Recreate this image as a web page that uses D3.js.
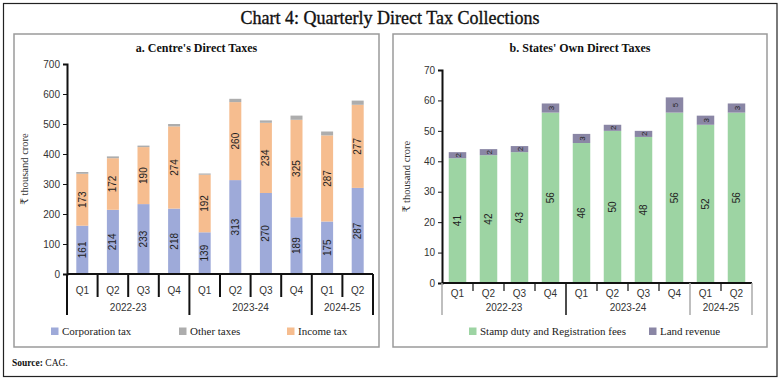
<!DOCTYPE html>
<html>
<head>
<meta charset="utf-8">
<script src="https://cdn.jsdelivr.net/npm/d3@7"></script>
<style>
  body { margin: 0; background: #fff; }
  svg { display: block; }
</style>
</head>
<body>
<svg id="chart" width="781" height="381"></svg>
<script>
// Quarters and fiscal years shared by both panels
const quarters = ["Q1", "Q2", "Q3", "Q4", "Q1", "Q2", "Q3", "Q4", "Q1", "Q2"];
const years = ["2022-23", "2022-23", "2022-23", "2022-23", "2023-24", "2023-24", "2023-24", "2023-24", "2024-25", "2024-25"];

// Panel a: Centre's direct taxes (₹ thousand crore)
const corporationTax = [161, 214, 233, 218, 139, 313, 270, 189, 175, 287];
const incomeTax = [173, 172, 190, 274, 192, 260, 234, 325, 287, 277];
const otherTaxes = [6, 6, 5, 8, 4, 11, 8, 14, 13, 14];
const centreTicks = [0, 100, 200, 300, 400, 500, 600, 700];

// Panel b: States' own direct taxes (₹ thousand crore)
const stampDuty = [41, 42, 43, 56, 46, 50, 48, 56, 52, 56];
const landRevenue = [2, 2, 2, 3, 3, 2, 2, 5, 3, 3];
const stateTicks = [0, 10, 20, 30, 40, 50, 60, 70];

const serif = "'Liberation Serif', 'DejaVu Serif', serif";
const sans = "'Liberation Sans', 'DejaVu Sans', sans-serif";

const svg = d3.select("#chart");

// Outer frame and title
svg.append("rect")
  .attr("x", 3.5).attr("y", 3.5)
  .attr("width", 773.5).attr("height", 373)
  .attr("fill", "none").attr("stroke", "#222").attr("stroke-width", 1.2);

svg.append("text")
  .attr("x", 390).attr("y", 24)
  .attr("text-anchor", "middle")
  .attr("font-family", serif)
  .attr("font-size", 18)
  .attr("fill", "#111")
  .attr("stroke", "#111")
  .attr("stroke-width", 0.35)
  .text("Chart 4: Quarterly Direct Tax Collections");

svg.append("text")
  .attr("x", 12).attr("y", 366)
  .attr("font-family", serif)
  .attr("font-size", 9.5)
  .attr("fill", "#111")
  .html("<tspan font-weight='bold'>Source:</tspan> CAG.");

const rows = quarters.map((q, i) => ({ key: i, quarter: q, year: years[i] }));

/**
 * Draw one stacked-bar panel
 */
function drawPanel(cfg) {
  const g = svg.append("g");

  // panel border
  g.append("rect")
    .attr("x", cfg.box[0]).attr("y", cfg.box[1])
    .attr("width", cfg.box[2]).attr("height", cfg.box[3])
    .attr("fill", "none").attr("stroke", "#9a9a9a").attr("stroke-width", 1.5);

  g.append("text")
    .attr("x", cfg.box[0] + cfg.box[2] / 2).attr("y", 52)
    .attr("text-anchor", "middle")
    .attr("font-family", serif)
    .attr("font-size", 12)
    .attr("font-weight", "bold")
    .attr("fill", "#111")
    .text(cfg.title);

  const data = rows.map(r => {
    const o = { key: r.key };
    cfg.series.forEach(s => { o[s.name] = s.values[r.key]; });
    return o;
  });

  const stack = d3.stack().keys(cfg.series.map(s => s.name));
  const layers = stack(data);

  const xPos = d3.scaleBand()
    .domain(rows.map(r => r.key))
    .range([cfg.x0, cfg.x1])
    .padding(0);
  const step = xPos.bandwidth();

  const y = d3.scaleLinear()
    .domain([0, cfg.max])
    .range([cfg.y0, cfg.yTop]);

  // y axis
  const yAxis = g.append("g")
    .attr("transform", `translate(${cfg.x0},0)`)
    .call(d3.axisLeft(y).tickValues(cfg.ticks).tickSize(4).tickPadding(3));
  yAxis.select(".domain").attr("stroke", "#111").attr("stroke-width", 2);
  yAxis.selectAll(".tick line").attr("stroke", "#111");
  yAxis.selectAll(".tick text")
    .attr("font-family", sans).attr("font-size", 10).attr("fill", "#333");

  g.append("text")
    .attr("transform", `translate(${cfg.ylabelX},${(cfg.y0 + cfg.yTop) / 2}) rotate(-90)`)
    .attr("text-anchor", "middle")
    .attr("font-family", serif)
    .attr("font-size", 10.5)
    .attr("fill", "#333")
    .text("₹ thousand crore");

  // bars
  layers.forEach((layer, li) => {
    const s = cfg.series[li];
    g.append("g").selectAll("rect")
      .data(layer)
      .join("rect")
      .attr("x", d => xPos(d.data.key) + (step - cfg.barW) / 2)
      .attr("width", cfg.barW)
      .attr("y", d => y(d[1]))
      .attr("height", d => y(d[0]) - y(d[1]))
      .attr("fill", s.color);

    if (s.label) {
      g.append("g").selectAll("text")
        .data(layer)
        .join("text")
        .attr("transform", d => {
          const cx = xPos(d.data.key) + step / 2;
          const cy = (y(d[0]) + y(d[1])) / 2;
          return `translate(${cx + 3.5},${cy}) rotate(-90)`;
        })
        .attr("text-anchor", "middle")
        .attr("font-family", sans)
        .attr("font-size", s.labelSize || 10)
        .attr("fill", "#222")
        .text(d => d[1] - d[0]);
    }
  });

  // x axis baseline
  g.append("line")
    .attr("x1", cfg.x0).attr("x2", cfg.x1)
    .attr("y1", y(0)).attr("y2", y(0))
    .attr("stroke", "#111").attr("stroke-width", 2);

  // quarter labels and separators
  g.append("g").selectAll("text")
    .data(rows)
    .join("text")
    .attr("x", d => xPos(d.key) + step / 2)
    .attr("y", cfg.qLabelY)
    .attr("text-anchor", "middle")
    .attr("font-family", sans)
    .attr("font-size", 10)
    .attr("fill", "#333")
    .text(d => d.quarter);

  const qSeps = rows.filter((r, i) => i > 0 && years[i] === years[i - 1]);
  g.append("g").selectAll("line")
    .data(qSeps)
    .join("line")
    .attr("x1", d => xPos(d.key)).attr("x2", d => xPos(d.key))
    .attr("y1", y(0)).attr("y2", y(0) + cfg.qSepLen)
    .attr("stroke", "#111").attr("stroke-width", cfg.qSepW);

  // year groups
  const groups = d3.groups(rows, r => r.year).map(([yr, rs]) => ({
    year: yr,
    start: xPos(rs[0].key),
    end: xPos(rs[rs.length - 1].key) + step
  }));
  const bounds = [groups[0].start].concat(groups.map(gr => gr.end));

  g.append("g").selectAll("line")
    .data(bounds)
    .join("line")
    .attr("x1", d => d).attr("x2", d => d)
    .attr("y1", y(0)).attr("y2", 315)
    .attr("stroke", (d, i) => cfg.boundColors[i])
    .attr("stroke-width", cfg.boundW);

  g.append("g").selectAll("text")
    .data(groups)
    .join("text")
    .attr("x", d => (d.start + d.end) / 2)
    .attr("y", 311)
    .attr("text-anchor", "middle")
    .attr("font-family", sans)
    .attr("font-size", 10)
    .attr("fill", "#333")
    .text(d => d.year);

  // legend
  const legend = g.append("g").selectAll("g")
    .data(cfg.legend)
    .join("g")
    .attr("transform", d => `translate(${d.x},335)`);
  legend.append("rect")
    .attr("x", 0).attr("y", -7.5)
    .attr("width", 7.5).attr("height", 7.5)
    .attr("fill", d => d.color);
  legend.append("text")
    .attr("x", 11).attr("y", 0)
    .attr("font-family", serif)
    .attr("font-size", 11)
    .attr("fill", "#222")
    .text(d => d.name);
}

const blue = "#9eaad9";
const orange = "#f6bd8f";
const grey = "#adadad";
const green = "#9dd4a3";
const purple = "#8a86a5";

drawPanel({
  box: [14, 34, 365, 313],
  title: "a. Centre's Direct Taxes",
  series: [
    { name: "Corporation tax", values: corporationTax, color: blue, label: true },
    { name: "Income tax", values: incomeTax, color: orange, label: true },
    { name: "Other taxes", values: otherTaxes, color: grey, label: false }
  ],
  x0: 67, x1: 373, y0: 274, yTop: 64, max: 700, ticks: centreTicks,
  barW: 12, ylabelX: 28,
  qLabelY: 294, qSepLen: 23, qSepW: 2,
  boundColors: ["#111", "#111", "#111", "#111"], boundW: 2,
  legend: [
    { name: "Corporation tax", color: blue, x: 51 },
    { name: "Other taxes", color: grey, x: 179 },
    { name: "Income tax", color: orange, x: 287 }
  ]
});

drawPanel({
  box: [393, 34, 374, 313],
  title: "b. States' Own Direct Taxes",
  series: [
    { name: "Stamp duty and Registration fees", values: stampDuty, color: green, label: true },
    { name: "Land revenue", values: landRevenue, color: purple, label: true, labelSize: 8 }
  ],
  x0: 442, x1: 752, y0: 283, yTop: 70, max: 70, ticks: stateTicks,
  barW: 17.5, ylabelX: 410,
  qLabelY: 297, qSepLen: 8, qSepW: 1.2,
  boundColors: ["#aaa", "#111", "#aaa", "#aaa"], boundW: 1.5,
  legend: [
    { name: "Stamp duty and Registration fees", color: green, x: 469 },
    { name: "Land revenue", color: purple, x: 649 }
  ]
});
</script>
</body>
</html>
